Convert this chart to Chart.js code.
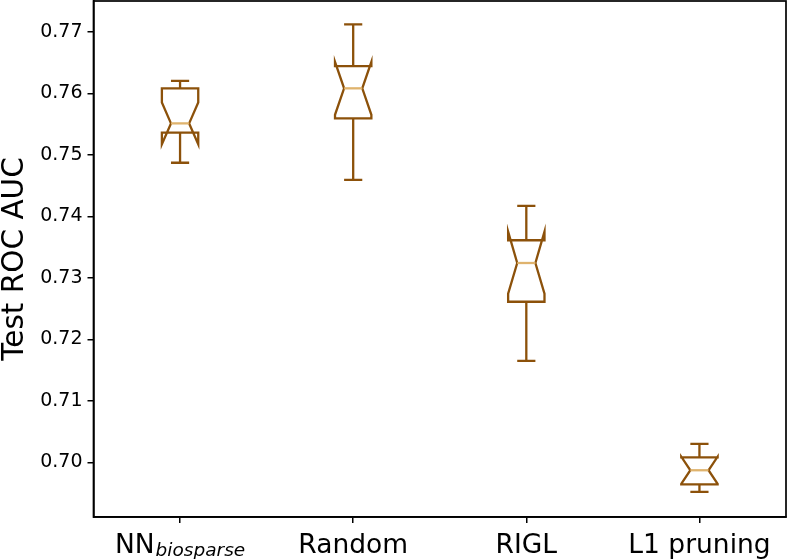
<!DOCTYPE html>
<html>
<head>
<meta charset="utf-8">
<script src="https://cdn.jsdelivr.net/npm/chart.js@4.4.0/dist/chart.umd.min.js"></script>
<style>
  html, body { margin: 0; padding: 0; background: #fff; }
  #wrap { width: 788px; height: 559px; }
</style>
</head>
<body>
<div id="wrap"><canvas id="auc"></canvas></div>
<script>
// categories (name + italic subscript)
const catNames = ['NN', 'Random', 'RIGL', 'L1 pruning'];
const catSubs = ['biosparse', '', '', ''];
const positions = [1, 2, 3, 4];

// box statistics
const whiskerLow = [0.7487, 0.7459, 0.7165, 0.6952];
const q1 = [0.7536, 0.7559, 0.7261, 0.6964];
const median = [0.7551, 0.7608, 0.7324, 0.6987];
const q3 = [0.7608, 0.7644, 0.7361, 0.7008];
const whiskerHigh = [0.7620, 0.7712, 0.7417, 0.7030];
const notchLow = [0.7517, 0.7565, 0.7274, 0.6965];
const notchHigh = [0.7585, 0.7651, 0.7375, 0.7009];

const yTicks = [0.70, 0.71, 0.72, 0.73, 0.74, 0.75, 0.76, 0.77];

const boxColor = '#8c510a';
const medianColor = '#dfb36d';
const boxWidth = 0.21; // in x units

Chart.defaults.font.family = 'DejaVu Sans';
Chart.defaults.color = '#000';

const boxPlugin = {
  id: 'notchedBoxes',
  afterDatasetsDraw(chart) {
    const ctx = chart.ctx;
    const xs = chart.scales.x;
    const ys = chart.scales.y;
    ctx.save();
    ctx.lineWidth = 2.3;
    ctx.lineJoin = 'miter';
    for (let i = 0; i < positions.length; i++) {
      const p = positions[i];
      const l = xs.getPixelForValue(p - boxWidth / 2);
      const r = xs.getPixelForValue(p + boxWidth / 2);
      const c = xs.getPixelForValue(p);
      const cl = xs.getPixelForValue(p - boxWidth / 4);
      const cr = xs.getPixelForValue(p + boxWidth / 4);

      // whiskers + caps
      ctx.strokeStyle = boxColor;
      ctx.beginPath();
      ctx.moveTo(c, ys.getPixelForValue(q1[i]));
      ctx.lineTo(c, ys.getPixelForValue(whiskerLow[i]));
      ctx.moveTo(c, ys.getPixelForValue(q3[i]));
      ctx.lineTo(c, ys.getPixelForValue(whiskerHigh[i]));
      ctx.moveTo(cl, ys.getPixelForValue(whiskerLow[i]));
      ctx.lineTo(cr, ys.getPixelForValue(whiskerLow[i]));
      ctx.moveTo(cl, ys.getPixelForValue(whiskerHigh[i]));
      ctx.lineTo(cr, ys.getPixelForValue(whiskerHigh[i]));
      ctx.stroke();

      // notched box
      ctx.beginPath();
      ctx.moveTo(l, ys.getPixelForValue(q1[i]));
      ctx.lineTo(l, ys.getPixelForValue(notchLow[i]));
      ctx.lineTo(cl, ys.getPixelForValue(median[i]));
      ctx.lineTo(l, ys.getPixelForValue(notchHigh[i]));
      ctx.lineTo(l, ys.getPixelForValue(q3[i]));
      ctx.lineTo(r, ys.getPixelForValue(q3[i]));
      ctx.lineTo(r, ys.getPixelForValue(notchHigh[i]));
      ctx.lineTo(cr, ys.getPixelForValue(median[i]));
      ctx.lineTo(r, ys.getPixelForValue(notchLow[i]));
      ctx.lineTo(r, ys.getPixelForValue(q1[i]));
      ctx.closePath();
      ctx.stroke();

      // median
      ctx.strokeStyle = medianColor;
      ctx.beginPath();
      ctx.moveTo(cl, ys.getPixelForValue(median[i]));
      ctx.lineTo(cr, ys.getPixelForValue(median[i]));
      ctx.stroke();
    }
    ctx.restore();
  },
  afterDraw(chart) {
    const ctx = chart.ctx;
    const a = chart.chartArea;
    const xs = chart.scales.x;
    ctx.save();
    // frame
    ctx.strokeStyle = '#000';
    ctx.lineWidth = 1.7;
    ctx.strokeRect(a.left, a.top, a.right - a.left, a.bottom - a.top);

    // category labels with subscript
    ctx.fillStyle = '#000';
    ctx.textBaseline = 'alphabetic';
    const base = 553;
    for (let i = 0; i < catNames.length; i++) {
      const c = xs.getPixelForValue(positions[i]);
      ctx.font = '26.5px "DejaVu Sans"';
      const w1 = ctx.measureText(catNames[i]).width;
      let w2 = 0;
      if (catSubs[i]) {
        ctx.font = 'italic 18.5px "DejaVu Sans"';
        w2 = ctx.measureText(catSubs[i]).width + 1;
      }
      const x0 = c - (w1 + w2) / 2;
      ctx.font = '26.5px "DejaVu Sans"';
      ctx.textAlign = 'left';
      ctx.fillText(catNames[i], x0, base);
      if (catSubs[i]) {
        ctx.font = 'italic 18.5px "DejaVu Sans"';
        ctx.fillText(catSubs[i], x0 + w1 + 1, base + 3);
      }
    }

    // y axis title
    ctx.translate(23, (a.top + a.bottom) / 2);
    ctx.rotate(-Math.PI / 2);
    ctx.textAlign = 'center';
    ctx.font = '29.5px "DejaVu Sans"';
    ctx.fillText('Test ROC AUC', 0, 0);
    ctx.restore();
  }
};

new Chart(document.getElementById('auc'), {
  type: 'scatter',
  data: {
    datasets: [{
      data: positions.map((p, i) => ({ x: p, y: median[i] })),
      pointRadius: 0,
      showLine: false
    }]
  },
  options: {
    responsive: true,
    maintainAspectRatio: false,
    animation: false,
    events: [],
    layout: { autoPadding: false, padding: { top: 1, right: 2, left: 0, bottom: 0 } },
    plugins: { legend: { display: false }, tooltip: { enabled: false } },
    scales: {
      x: {
        type: 'linear',
        min: 0.5,
        max: 4.5,
        afterBuildTicks: (s) => { s.ticks = positions.map(v => ({ value: v })); },
        afterFit: (s) => {
          s.height = 42;
          s.paddingLeft = 0;
          s.paddingRight = 0;
        },
        ticks: { callback: () => '' },
        grid: { drawOnChartArea: false, drawTicks: true, tickLength: 6, color: '#000', lineWidth: 1.5 },
        border: { display: true, color: '#000', width: 1.7 }
      },
      y: {
        type: 'linear',
        min: 0.6911,
        max: 0.7750,
        afterBuildTicks: (s) => { s.ticks = yTicks.map(v => ({ value: v })); },
        afterFit: (s) => {
          s.width = 93.5;
          s.paddingTop = 0;
          s.paddingBottom = 0;
        },
        ticks: {
          padding: 5,
          font: { size: 19 },
          color: '#000',
          callback: (v) => v.toFixed(2)
        },
        grid: { drawOnChartArea: false, drawTicks: true, tickLength: 6, color: '#000', lineWidth: 1.5 },
        border: { display: true, color: '#000', width: 1.7 }
      }
    }
  },
  plugins: [boxPlugin]
});
</script>
</body>
</html>
